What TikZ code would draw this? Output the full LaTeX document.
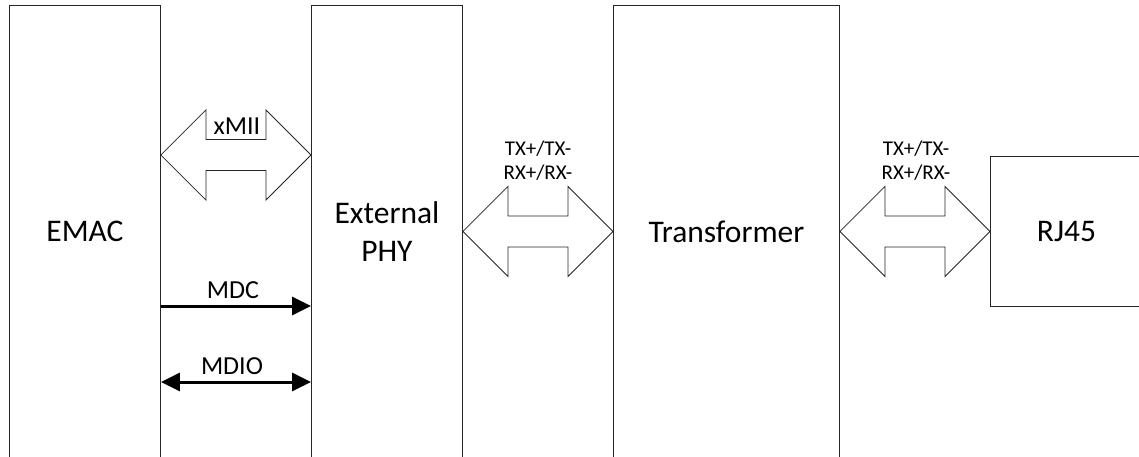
\documentclass[tikz,border=0pt]{standalone}
\usepackage{fontspec}
\setmainfont{Carlito}
\usetikzlibrary{calc,arrows.meta}
\begin{document}
\begin{tikzpicture}[x=1pt,y=-1pt,
  box/.style={draw=black!85,line width=0.9pt,inner sep=0pt,anchor=north west,fill=white},
  big/.style={font=\fontsize{31.5}{38}\selectfont,align=center},
  mid/.style={font=\fontsize{26}{30}\selectfont},
  small/.style={font=\fontsize{21}{24}\selectfont,align=center},
  blk/.style={draw=black!85,line width=0.8pt,fill=white,line join=miter},
  sig/.style={line width=3pt,draw=black}]
\useasboundingbox (0,0) rectangle (1139,456);
\begin{scope}
\clip (0,0) rectangle (1139,456);
\node[box,minimum width=151pt,minimum height=452pt] (emac) at (9,5) {};
\node[box,minimum width=151pt,minimum height=452pt] (phy) at (311,5) {};
\node[box,minimum width=226pt,minimum height=452pt] (trans) at (613,5) {};
\node[box,minimum width=152pt,minimum height=150pt] (rj) at (990,156) {};
\end{scope}
\node[big] (emacT) at (emac.center) {EMAC};
\node[big] (phyT) at (phy.center) {External\\PHY};
\node[big] (transT) at (trans.center) {Transformer};
\node[big] (rjT) at (rj.center) {RJ45};
% block arrows
\newcommand\dblarrow[2]{%
  \draw[blk] (#1) -- ($(#1)+(45,-45)$) -- ($(#1)+(45,-15.5)$) -- ($(#2)+(-45,-15.5)$)
    -- ($(#2)+(-45,-45)$) -- (#2) -- ($(#2)+(-45,45)$) -- ($(#2)+(-45,15.5)$)
    -- ($(#1)+(45,15.5)$) -- ($(#1)+(45,45)$) -- cycle;}
\coordinate (xl) at (emac.east |- 0,155);
\coordinate (xr) at (phy.west |- 0,155);
\dblarrow{xl}{xr}
\dblarrow{phy.east}{trans.west}
\dblarrow{trans.east}{rj.west}
\node[mid] (xmii) at (237,126) {xMII};
\node[small] (tx1) at (538,161) {TX+/TX-\\RX+/RX-};
\node[small] (tx2) at (916,161) {TX+/TX-\\RX+/RX-};
% MDC / MDIO
\draw[sig,-{Triangle[length=19pt,width=18pt]}] (emac.east |- 0,306) -- (phy.west |- 0,306);
\draw[sig,{Triangle[length=19pt,width=18pt]}-{Triangle[length=19pt,width=18pt]}] (emac.east |- 0,382) -- (phy.west |- 0,382);
\node[mid] (mdc) at (233,290) {MDC};
\node[mid] (mdio) at (232,366) {MDIO};
\end{tikzpicture}
\end{document}
